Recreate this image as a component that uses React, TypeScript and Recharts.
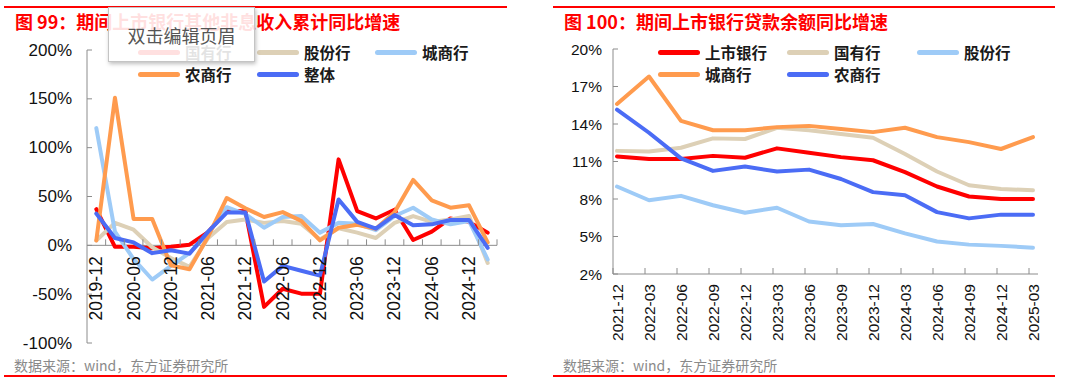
import React from 'react';
import { LineChart, Line, XAxis, YAxis, ReferenceLine } from 'recharts';

const NUM_FONT = "'Liberation Sans', Arial, 'Noto Sans CJK SC', sans-serif";
const CJK_FONT = "'Noto Sans CJK SC', 'Liberation Sans', sans-serif";
const AXIS = '#8c8c8c';

// 图 99 其他非息收入累计同比增速（%）
const quarters99 = [
  '2019-12', '2020-03', '2020-06', '2020-09', '2020-12', '2021-03', '2021-06', '2021-09',
  '2021-12', '2022-03', '2022-06', '2022-09', '2022-12', '2023-03', '2023-06', '2023-09',
  '2023-12', '2024-03', '2024-06', '2024-09', '2024-12', '2025-03',
];
const state99 = [37, -1.5, -1.5, -3, -1.5, 0.7, 13.5, 35.5, 35, -63, -44.5, -49.5, -49.5, 88, 35, 27.5, 36.5, 5.5, 14, 27.5, 24, 13];
const joint99 = [5, 23, 16, -2, -13, -22, 7.5, 24, 26.5, 23, 25, 22, 6, 17.5, 13, 7.5, 23, 30, 24, 26.5, 30, -18];
const city99 = [120, 14, -14, -35, -21, -8, 12, 39, 32, 18, 29, 30, 13, 23, 22, 15.5, 30, 38.5, 26.5, 21.5, 25, -14.5];
const rural99 = [5, 151, 27, 27, -20.5, -24.5, 9, 48.5, 38, 29, 34, 25, 5, 18, 21, 17, 34, 67, 46, 38.5, 41, 3];
const total99 = [32.5, 7.5, 3, -8, -5, -8.5, 14, 33.5, 33.5, -37, -21, -26, -31, 47, 24, 17, 31, 20.5, 21.5, 26, 26, -2.5];
const yTicks99 = [-100, -50, 0, 50, 100, 150, 200];
const names99 = ['国有行', '股份行', '城商行', '农商行', '整体'];
const colors99 = ['#ff0000', '#ddd0b6', '#9ecbf7', '#ff9b4e', '#4b6cf5'];

// 图 100 贷款余额同比增速（%）
const quarters100 = [
  '2021-12', '2022-03', '2022-06', '2022-09', '2022-12', '2023-03', '2023-06',
  '2023-09', '2023-12', '2024-03', '2024-06', '2024-09', '2024-12', '2025-03',
];
const listed100 = [11.4, 11.2, 11.2, 11.45, 11.3, 12.05, 11.7, 11.35, 11.1, 10.15, 9.0, 8.2, 8.0, 8.0];
const state100 = [11.85, 11.8, 12.1, 12.85, 12.8, 13.7, 13.5, 13.2, 12.9, 11.6, 10.2, 9.1, 8.8, 8.7];
const joint100 = [9.0, 7.9, 8.25, 7.5, 6.9, 7.3, 6.2, 5.9, 6.0, 5.25, 4.6, 4.35, 4.25, 4.1];
const city100 = [15.6, 17.8, 14.25, 13.5, 13.5, 13.75, 13.85, 13.6, 13.35, 13.7, 12.95, 12.55, 12.0, 12.95];
const rural100 = [15.15, 13.3, 11.25, 10.25, 10.6, 10.2, 10.35, 9.6, 8.55, 8.3, 6.95, 6.45, 6.75, 6.75];
const yTicks100 = [2, 5, 8, 11, 14, 17, 20];
const names100 = ['上市银行', '国有行', '股份行', '城商行', '农商行'];
const colors100 = ['#ff0000', '#ddd0b6', '#9ecbf7', '#ff9b4e', '#4b6cf5'];

const data99 = quarters99.map((q, i) => ({
  q, s0: state99[i], s1: joint99[i], s2: city99[i], s3: rural99[i], s4: total99[i],
}));
const data100 = quarters100.map((q, i) => ({
  q, s0: listed100[i], s1: state100[i], s2: joint100[i], s3: city100[i], s4: rural100[i],
}));

// layout of left chart (axis sizes take the place of margins)
const L99 = 87, R99 = 43, T99 = 50, B99 = 46;
const PW99 = 540 - L99 - R99;
const PH99 = 389 - T99 - B99;
const STEP99 = PW99 / quarters99.length;
const ZERO99 = T99 + PH99 * (200 / 300);

// layout of right chart
const L100 = 73, R100 = 42, T100 = 49, B100 = 115;
const BOTTOM100 = 389 - B100;

const LeftXTick = (props: any) => {
  const { x, payload } = props;
  const idx = props.index ?? payload.index;
  const ty = ZERO99 + 11;
  return (
    <g>
      <line x1={x + STEP99 / 2} x2={x + STEP99 / 2} y1={ZERO99} y2={ZERO99 - 6} stroke={AXIS} />
      {idx % 2 === 0 && (
        <text x={x} y={ty} transform={`rotate(-90 ${x} ${ty})`} textAnchor="end" dominantBaseline="central"
          fontSize={17.5} fill="#111" fontFamily={NUM_FONT}>{payload.value}</text>
      )}
    </g>
  );
};

const LeftYTick = (props: any) => {
  const { y, payload } = props;
  return (
    <g>
      <line x1={L99} x2={L99 + 5} y1={y} y2={y} stroke={AXIS} />
      <text x={L99 - 15} y={y} textAnchor="end" dominantBaseline="central" fontSize={17} fill="#111" fontFamily={NUM_FONT}>
        {payload.value}%
      </text>
    </g>
  );
};

const RightXTick = (props: any) => {
  const { x, payload } = props;
  const ty = BOTTOM100 + 10;
  return (
    <g>
      <line x1={x - 4} x2={x - 4} y1={BOTTOM100} y2={BOTTOM100 - 6} stroke={AXIS} />
      <text x={x} y={ty} transform={`rotate(-90 ${x} ${ty})`} textAnchor="end" dominantBaseline="central"
        fontSize={15.5} fill="#111" fontFamily={NUM_FONT}>{payload.value}</text>
    </g>
  );
};

const RightYTick = (props: any) => {
  const { y, payload } = props;
  return (
    <g>
      <line x1={L100} x2={L100 + 5} y1={y} y2={y} stroke={AXIS} />
      <text x={L100 - 11} y={y} textAnchor="end" dominantBaseline="central" fontSize={15.5} fill="#111" fontFamily={NUM_FONT}>
        {payload.value}%
      </text>
    </g>
  );
};

const Legend = ({ names, colors, cols, rows }: { names: string[]; colors: string[]; cols: number[]; rows: number[] }) => (
  <>
    {names.map((n, i) => (
      <div key={n} style={{ position: 'absolute', left: cols[i % 3], top: rows[Math.floor(i / 3)] - 11, height: 22, display: 'flex', alignItems: 'center' }}>
        <div style={{ width: 42, height: 5, borderRadius: 3, background: colors[i] }} />
        <span style={{ marginLeft: 5, fontSize: 15.5, fontWeight: 'bold', color: '#1a1a1a', fontFamily: CJK_FONT, whiteSpace: 'nowrap' }}>{n}</span>
      </div>
    ))}
  </>
);

const Frame = ({ left, width, title }: { left: number; width: number; title: string }) => (
  <>
    <div style={{ position: 'absolute', left, top: 6, width, height: 2, background: '#ff0000' }} />
    <div style={{ position: 'absolute', left: left + 11, top: 11, fontSize: 18, lineHeight: '20px', fontWeight: 'bold', color: '#ff0000', fontFamily: CJK_FONT, whiteSpace: 'nowrap' }}>
      {title}
    </div>
    <div style={{ position: 'absolute', left: left + 10, top: 357, fontSize: 14, lineHeight: '16px', color: '#8a8a8a', fontFamily: CJK_FONT, whiteSpace: 'nowrap' }}>
      数据来源：wind，东方证券研究所
    </div>
    <div style={{ position: 'absolute', left, top: 375, width, height: 2, background: '#ff0000' }} />
  </>
);

const App: React.FC = () => {
  const keys = ['s0', 's1', 's2', 's3', 's4'];
  return (
    <div style={{ position: 'absolute', left: 0, top: 0, width: 1080, height: 389, background: '#fff', overflow: 'hidden' }}>
      <Frame left={4} width={503} title="图 99：期间上市银行其他非息收入累计同比增速" />
      <Frame left={553} width={502} title="图 100：期间上市银行贷款余额同比增速" />

      <div style={{ position: 'absolute', left: 0, top: 0 }}>
        <LineChart width={540} height={389} data={data99} margin={{ top: T99, right: R99, left: 0, bottom: 0 }}>
          <XAxis dataKey="q" height={B99} interval={0} axisLine={false} tickLine={false}
            padding={{ left: STEP99 / 2, right: STEP99 / 2 }} tick={<LeftXTick />} />
          <YAxis width={L99} domain={[-100, 200]} ticks={yTicks99} interval={0} axisLine={{ stroke: AXIS }}
            tickLine={false} tick={<LeftYTick />} />
          <ReferenceLine y={0} stroke={AXIS} strokeWidth={1} />
          {keys.map((k, i) => (
            <Line key={k} dataKey={k} name={names99[i]} stroke={colors99[i]} strokeWidth={4} dot={false}
              strokeLinejoin="round" strokeLinecap="round" isAnimationActive={false} />
          ))}
        </LineChart>
      </div>

      <div style={{ position: 'absolute', left: 540, top: 0 }}>
        <LineChart width={540} height={389} data={data100} margin={{ top: T100, right: R100, left: 0, bottom: 0 }}>
          <XAxis dataKey="q" height={B100} interval={0} axisLine={{ stroke: AXIS }} tickLine={false}
            padding={{ left: 4, right: 5 }} tick={<RightXTick />} />
          <YAxis width={L100} domain={[2, 20]} ticks={yTicks100} interval={0} axisLine={{ stroke: AXIS }}
            tickLine={false} tick={<RightYTick />} />
          {keys.map((k, i) => (
            <Line key={k} dataKey={k} name={names100[i]} stroke={colors100[i]} strokeWidth={4} dot={false}
              strokeLinejoin="round" strokeLinecap="round" isAnimationActive={false} />
          ))}
        </LineChart>
      </div>

      <Legend names={names99} colors={colors99} cols={[138, 257, 375]} rows={[52, 74]} />
      <Legend names={names100} colors={colors100} cols={[658, 787, 917]} rows={[52, 74]} />

      <div style={{
        position: 'absolute', left: 108, top: 7, width: 147, height: 55, boxSizing: 'border-box',
        background: 'rgba(255,255,255,0.88)', border: '1px solid #c4c4c4', boxShadow: '1px 2px 4px rgba(0,0,0,0.25)',
        display: 'flex', alignItems: 'center', justifyContent: 'center',
        fontSize: 18, color: '#555', fontFamily: CJK_FONT,
      }}>
        双击编辑页眉
      </div>
    </div>
  );
};

export default App;
